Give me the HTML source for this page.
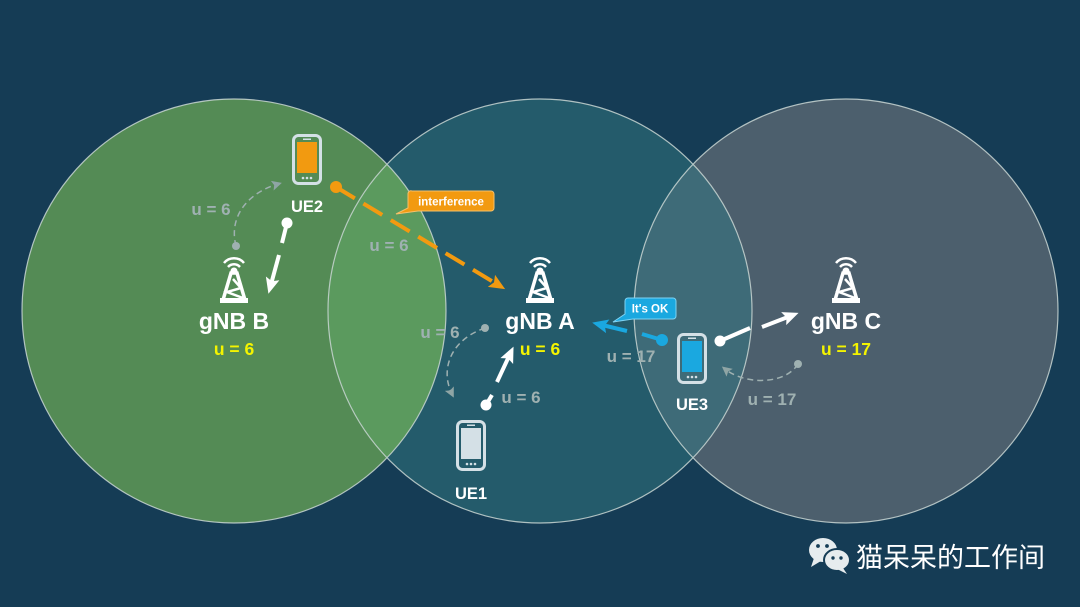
<!DOCTYPE html>
<html><head><meta charset="utf-8"><style>
html,body{margin:0;padding:0;background:#153c55;}
svg{display:block}
text{font-family:"Liberation Sans",Arial,sans-serif;font-weight:bold}
</style></head><body>
<svg width="1080" height="607" viewBox="0 0 1080 607" xmlns="http://www.w3.org/2000/svg">
<defs>
<clipPath id="cA"><circle cx="540" cy="311" r="212"/></clipPath>
<marker id="ao" markerWidth="20" markerHeight="20" refX="10" refY="7" orient="auto" markerUnits="userSpaceOnUse"><path d="M0,0 L16,7 L0,14 L3,7 z" fill="#f29a10"/></marker>
<marker id="ab" markerWidth="20" markerHeight="20" refX="10" refY="7" orient="auto" markerUnits="userSpaceOnUse"><path d="M0,0 L16,7 L0,14 L3,7 z" fill="#1aa8e0"/></marker>
<marker id="awh" markerWidth="20" markerHeight="20" refX="10" refY="7" orient="auto" markerUnits="userSpaceOnUse"><path d="M0,0 L16,7 L0,14 L3,7 z" fill="#fff"/></marker>
<marker id="ag" markerWidth="14" markerHeight="14" refX="6" refY="5" orient="auto" markerUnits="userSpaceOnUse"><path d="M0,0 L10,5 L0,10 L2,5 z" fill="#8fa5a5"/></marker>
<g id="tower" fill="#fff">
 <path d="M-3,-13 L3,-13 L11,14 L-11,14 z" fill="none" stroke="#fff" stroke-width="3.5"/>
 <path d="M-1,-7 L7,2 L-7,6 L9,12" fill="none" stroke="#fff" stroke-width="2.5"/>
 <rect x="-14" y="12" width="28" height="5"/>
 <circle cx="0" cy="-15" r="3.5"/>
 <path d="M-6,-19 A8,8 0 0 1 6,-19" fill="none" stroke="#fff" stroke-width="2.5"/>
 <path d="M-10,-23 A13,13 0 0 1 10,-23" fill="none" stroke="#fff" stroke-width="2.5"/>
</g>
</defs>
<rect width="1080" height="607" fill="#153c55"/>
<circle cx="540" cy="311" r="212" fill="#245b6b"/>
<circle cx="846" cy="311" r="212" fill="#4c5f6d"/>
<circle cx="234" cy="311" r="212" fill="#548b55"/>
<g clip-path="url(#cA)">
 <circle cx="234" cy="311" r="212" fill="#5b9a5e"/>
 <circle cx="846" cy="311" r="212" fill="#3e6b78"/>
</g>
<g fill="none" stroke="#c9d6d3" stroke-width="1.2" opacity="0.85">
 <circle cx="234" cy="311" r="212"/><circle cx="540" cy="311" r="212"/><circle cx="846" cy="311" r="212"/>
</g>
<use href="#tower" x="234" y="286"/>
<use href="#tower" x="540" y="286"/>
<use href="#tower" x="846" y="286"/>
<text x="234" y="329" font-size="23" fill="#fff" text-anchor="middle">gNB B</text>
<text x="540" y="329" font-size="23" fill="#fff" text-anchor="middle">gNB A</text>
<text x="846" y="329" font-size="23" fill="#fff" text-anchor="middle">gNB C</text>
<text x="234" y="355" font-size="17.5" fill="#f4f400" text-anchor="middle">u = 6</text>
<text x="540" y="355" font-size="17.5" fill="#f4f400" text-anchor="middle">u = 6</text>
<text x="846" y="355" font-size="17.5" fill="#f4f400" text-anchor="middle">u = 17</text>
<g font-size="17" fill="#9fb1b1" text-anchor="middle">
<text x="211" y="215">u = 6</text>
<text x="389" y="251">u = 6</text>
<text x="440" y="338">u = 6</text>
<text x="521" y="403">u = 6</text>
<text x="631" y="362">u = 17</text>
<text x="772" y="405">u = 17</text>
</g>
<g fill="none" stroke="#9fb1b1" stroke-width="1.5" stroke-dasharray="6,4">
<path d="M236,246 C228,215 250,192 278,184" marker-end="url(#ag)"/>
<path d="M485,328 C450,340 440,370 452,394" marker-end="url(#ag)"/>
<path d="M798,364 C785,385 745,385 725,369" marker-end="url(#ag)"/>
</g>
<g fill="#9fb1b1"><circle cx="236" cy="246" r="4"/><circle cx="485" cy="328" r="4"/><circle cx="798" cy="364" r="4"/></g>
<g stroke="#fff" stroke-width="4" fill="none">
<line x1="287" y1="223" x2="282" y2="243"/>
<line x1="279" y1="255" x2="270" y2="288" marker-end="url(#awh)"/>
<line x1="486" y1="405" x2="492" y2="395"/>
<line x1="497" y1="382" x2="511" y2="352" marker-end="url(#awh)"/>
<line x1="720" y1="341" x2="750" y2="328"/>
<line x1="762" y1="327" x2="793" y2="315" marker-end="url(#awh)"/>
</g>
<g fill="#fff"><circle cx="287" cy="223" r="5.5"/><circle cx="486" cy="405" r="5.5"/><circle cx="720" cy="341" r="5.5"/></g>
<line x1="336" y1="187" x2="500" y2="286" stroke="#f29a10" stroke-width="4" stroke-dasharray="22,10" marker-end="url(#ao)"/>
<circle cx="336" cy="187" r="6" fill="#f29a10"/>
<line x1="662" y1="340" x2="642" y2="334" stroke="#1aa8e0" stroke-width="4"/>
<line x1="627" y1="331" x2="598" y2="324" stroke="#1aa8e0" stroke-width="4" marker-end="url(#ab)"/>
<circle cx="662" cy="340" r="6" fill="#1aa8e0"/>
<path d="M412,191 H491 a3,3 0 0 1 3,3 V208 a3,3 0 0 1 -3,3 H418 L396,214 L408,208 V194 a3,3 0 0 1 4,-3 z" fill="#f29a10" stroke="#f6c06a" stroke-width="1"/>
<text x="451" y="205.5" font-size="11.5" fill="#fff" text-anchor="middle">interference</text>
<path d="M628,298 H673 a3,3 0 0 1 3,3 V316 a3,3 0 0 1 -3,3 H633 L613,322 L625,314 V301 a3,3 0 0 1 3,-3 z" fill="#1aa8e0" stroke="#7fd3f3" stroke-width="1"/>
<text x="650" y="312.5" font-size="11.5" fill="#fff" text-anchor="middle">It's OK</text>
<g>
<rect x="293.5" y="135.5" width="27" height="48" rx="5" fill="none" stroke="#d4e0e6" stroke-width="3"/>
<rect x="297" y="142" width="20" height="31" fill="#f29a10"/>
<rect x="303" y="138.5" width="8" height="1.5" fill="#d4e0e6"/>
<circle cx="303" cy="178" r="1.3" fill="#d4e0e6"/><circle cx="307" cy="178" r="1.3" fill="#d4e0e6"/><circle cx="311" cy="178" r="1.3" fill="#d4e0e6"/>
</g>
<g>
<rect x="457.5" y="421.5" width="27" height="48" rx="5" fill="none" stroke="#d4e0e6" stroke-width="3"/>
<rect x="461" y="428" width="20" height="31" fill="#d4e0e6"/>
<rect x="467" y="424.5" width="8" height="1.5" fill="#d4e0e6"/>
<circle cx="467" cy="464" r="1.3" fill="#d4e0e6"/><circle cx="471" cy="464" r="1.3" fill="#d4e0e6"/><circle cx="475" cy="464" r="1.3" fill="#d4e0e6"/>
</g>
<g>
<rect x="678.5" y="334.5" width="27" height="48" rx="5" fill="none" stroke="#d4e0e6" stroke-width="3"/>
<rect x="682" y="341" width="20" height="31" fill="#1aa8e0"/>
<rect x="688" y="337.5" width="8" height="1.5" fill="#d4e0e6"/>
<circle cx="688" cy="377" r="1.3" fill="#d4e0e6"/><circle cx="692" cy="377" r="1.3" fill="#d4e0e6"/><circle cx="696" cy="377" r="1.3" fill="#d4e0e6"/>
</g>
<text x="307" y="212" font-size="16.5" fill="#fff" text-anchor="middle">UE2</text>
<text x="471" y="499" font-size="16.5" fill="#fff" text-anchor="middle">UE1</text>
<text x="692" y="410" font-size="16.5" fill="#fff" text-anchor="middle">UE3</text>
<g fill="#e6ecee">
<ellipse cx="823" cy="550" rx="14" ry="12"/>
<path d="M814,558 L811,567 L821,561 z"/>
<ellipse cx="837" cy="560" rx="13" ry="11" stroke="#153c55" stroke-width="2"/>
<path d="M843,568 L847,574 L837,569 z"/>
</g>
<g fill="#153c55"><circle cx="818" cy="546" r="1.9"/><circle cx="827" cy="546" r="1.9"/><circle cx="833" cy="558" r="1.7"/><circle cx="841" cy="558" r="1.7"/></g>
<text x="856" y="567" font-size="27" fill="#ffffff" style="font-family:'Liberation Sans','Noto Sans CJK SC',sans-serif;font-weight:normal">猫呆呆的工作间</text>
</svg>
</body></html>
